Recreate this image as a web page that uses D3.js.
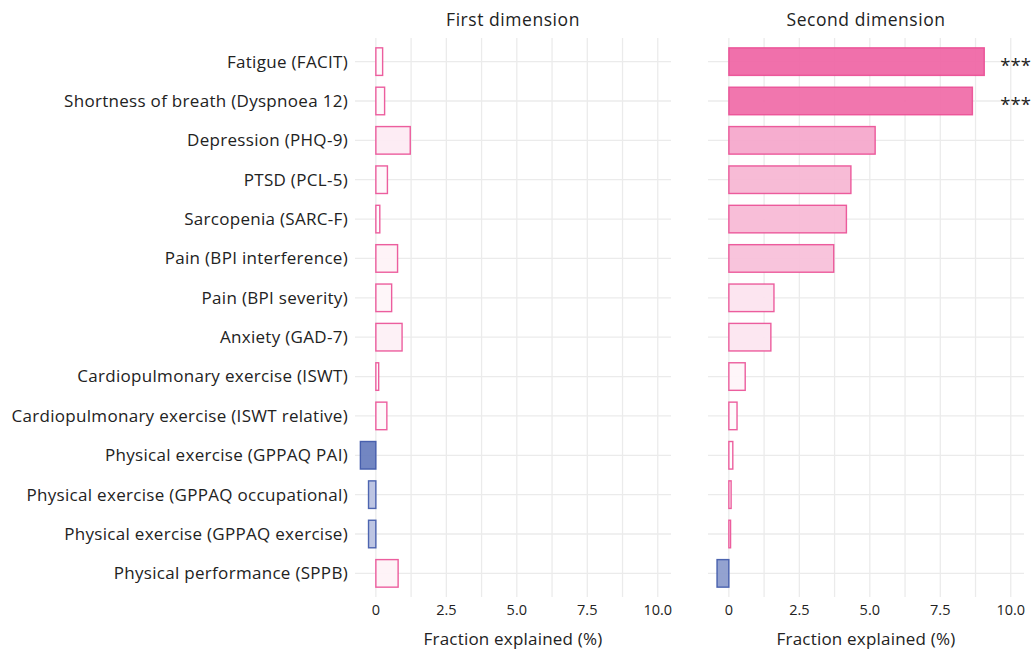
<!DOCTYPE html>
<html>
<head>
<meta charset="utf-8">
<script src="https://cdn.jsdelivr.net/npm/d3@7"></script>
<style>
  body { margin: 0; background: #fff; }
  text { font-family: "Open Sans", Roboto, sans-serif; fill: #222; }
</style>
</head>
<body>
<div id="chart"></div>
<script>
const categories = [
  'Fatigue (FACIT)',
  'Shortness of breath (Dyspnoea 12)',
  'Depression (PHQ-9)',
  'PTSD (PCL-5)',
  'Sarcopenia (SARC-F)',
  'Pain (BPI interference)',
  'Pain (BPI severity)',
  'Anxiety (GAD-7)',
  'Cardiopulmonary exercise (ISWT)',
  'Cardiopulmonary exercise (ISWT relative)',
  'Physical exercise (GPPAQ PAI)',
  'Physical exercise (GPPAQ occupational)',
  'Physical exercise (GPPAQ exercise)',
  'Physical performance (SPPB)'
]
const firstDim = [0.24, 0.31, 1.22, 0.41, 0.14, 0.77, 0.56, 0.93, 0.10, 0.39, -0.55, -0.26, -0.26, 0.79]
const secondDim = [9.06, 8.64, 5.19, 4.33, 4.17, 3.72, 1.60, 1.49, 0.58, 0.29, 0.14, 0.08, 0.06, -0.42]
const secondStars = ['***', '***', '', '', '', '', '', '', '', '', '', '', '', '']
const panelTitles = ['First dimension', 'Second dimension']
const xTicks = [0, 2.5, 5, 7.5, 10]
const xGrid = [0, 1.25, 2.5, 3.75, 5, 6.25, 7.5, 8.75, 10]

const width = 1031
const height = 650
const plotTop = 38
const plotBottom = 597

const svg = d3.select('#chart').append('svg')
  .attr('width', width)
  .attr('height', height)

const yScale = d3.scalePoint().domain(categories).range([plotTop, plotBottom]).padding(0.6)
const barH = yScale.step() * 0.7

// shared diverging fill: blue for negatives, pink for positives
const allVals = firstDim.concat(secondDim)
const fillScale = d3.scaleLinear()
  .domain([d3.min(allVals), 0, d3.max(allVals)])
  .range(['#6a7fbf', '#ffffff', '#ef68a6'])

const panels = [
  { title: panelTitles[0], values: firstDim, stars: null, range: [355, 671] },
  { title: panelTitles[1], values: secondDim, stars: secondStars, range: [708, 1024] }
]

panels.forEach((p) => {
  const x = d3.scaleLinear().domain([-0.74, 10.47]).range(p.range)
  const g = svg.append('g')

  // gridlines
  g.selectAll('line.h').data(categories).join('line')
    .attr('class', 'h')
    .attr('x1', p.range[0]).attr('x2', p.range[1])
    .attr('y1', (d) => yScale(d)).attr('y2', (d) => yScale(d))
    .attr('stroke', '#ebebeb').attr('stroke-width', 1.3)
  g.selectAll('line.v').data(xGrid).join('line')
    .attr('class', 'v')
    .attr('x1', (d) => x(d)).attr('x2', (d) => x(d))
    .attr('y1', plotTop).attr('y2', plotBottom)
    .attr('stroke', '#ebebeb').attr('stroke-width', 1.3)

  // bars
  g.selectAll('rect').data(p.values).join('rect')
    .attr('x', (d) => x(Math.min(0, d)))
    .attr('width', (d) => Math.abs(x(d) - x(0)))
    .attr('y', (d, i) => yScale(categories[i]) - barH / 2)
    .attr('height', barH)
    .attr('fill', (d) => fillScale(d))
    .attr('fill-opacity', 0.95)
    .attr('stroke', (d) => d < 0 ? '#3d56a8' : '#ea4c94')
    .attr('stroke-opacity', 0.9)
    .attr('stroke-width', 1.4)

  if (p.stars) {
    g.selectAll('text.star').data(p.stars).join('text')
      .attr('class', 'star')
      .attr('x', x(10.17))
      .attr('y', (d, i) => yScale(categories[i]) + 10)
      .attr('text-anchor', 'middle')
      .attr('font-size', 18.5)
      .text((d) => d)
  }

  // x tick labels
  g.selectAll('text.tick').data(xTicks).join('text')
    .attr('class', 'tick')
    .attr('x', (d) => x(d))
    .attr('y', 615)
    .attr('text-anchor', 'middle')
    .attr('font-size', 14.5)
    .attr('fill', '#333')
    .text((d) => d === 0 ? '0' : d3.format('.1f')(d))

  // panel title and axis title
  const mid = (p.range[0] + p.range[1]) / 2
  g.append('text')
    .attr('x', mid).attr('y', 26)
    .attr('text-anchor', 'middle')
    .attr('font-size', 17.5)
    .attr('letter-spacing', 0.55)
    .text(p.title)
  g.append('text')
    .attr('x', mid).attr('y', 645)
    .attr('text-anchor', 'middle')
    .attr('font-size', 17)
    .attr('letter-spacing', 0.2)
    .text('Fraction explained (%)')
})

// category labels
svg.append('g').selectAll('text').data(categories).join('text')
  .attr('x', 348)
  .attr('y', (d) => yScale(d))
  .attr('dy', '0.35em')
  .attr('text-anchor', 'end')
  .attr('font-size', 17)
  .attr('letter-spacing', 0.3)
  .text((d) => d)
</script>
</body>
</html>
